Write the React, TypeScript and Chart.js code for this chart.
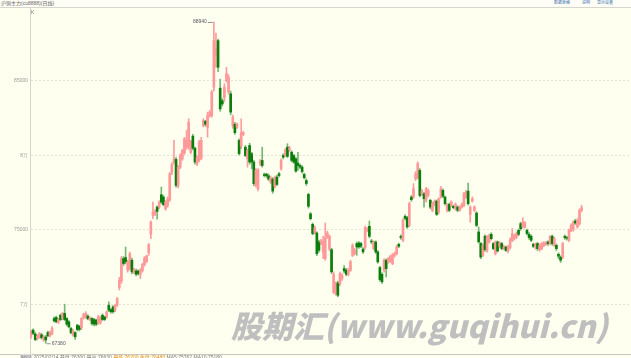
import React, { useEffect, useRef } from "react";
import { Chart, registerables } from "chart.js";

Chart.register(...registerables);

// ---- DATA ----
const openPrices = [
  67850, 68260, 68000, 67750, 67770, 67950, 67630, 67800, 68100, 67880, 68000, 69040, 69110, 68790, 69260, 69040, 69380, 69040, 68820, 68370,
  67920, 68100, 68590, 68520, 68410, 69110, 69150, 69200, 68970, 69040, 68970, 68930, 68750, 68750, 69260, 69150, 69150, 69930, 69640, 69820,
  69600, 69930, 71120, 71560, 73060, 73130, 72280, 72500, 72950, 72170, 72230, 72230, 72000, 72250, 72660, 72880, 73460, 74700, 75960, 76050,
  76520, 76520, 77350, 77190, 76410, 76640, 77000, 78860, 79540, 79720, 77970, 79200, 79750, 80160, 80540, 80540, 80200, 81280, 80470, 79420,
  79650, 79800, 82000, 82280, 81880, 82660, 82660, 84560, 86680, 87690, 84500, 83660, 83890, 84990, 84230, 84120, 81990, 82070, 81880, 80990,
  80620, 81400, 80540, 79760, 80650, 80100, 79540, 77970, 77750, 79470, 79650, 78710, 78730, 78620,
  78200, 78400, 77900, 78530, 78750, 79090, 79980, 79980, 80540, 80390, 80200, 79980, 79760, 79470, 79310, 79200,
  78710, 78300, 77370, 76070, 75360, 74780, 74780, 74180, 74110, 73500, 73060, 74510, 73730, 73660, 70800, 70710, 71430, 71380, 71720, 72390, 72280, 72010,
  72280, 73280, 73390, 74070, 74110, 74070, 73700, 73800, 74960, 75230, 74240, 73730, 74180, 73510, 72460, 72010, 72280, 72950, 72840, 72900, 72730, 73280,
  73390, 74020, 74560, 74290, 75900, 75810, 75290, 77190, 77190, 78420, 78530, 78980, 77410, 77410, 76970, 77300, 76970, 76300, 76750,
  76920, 76180, 77190, 77640, 77190, 76300, 76700, 76630, 76570, 76410, 76520, 76300,
  76520, 76630, 77190, 77590, 76030, 76920, 76300, 76120, 74850, 74070, 73280, 74560, 73620, 74180, 74690, 74070, 73390, 74180, 73890, 74070, 73730, 73840,
  73570, 73800, 74290, 74400, 74510, 74960, 75410, 75180, 75180, 74960, 74690, 74560, 74020, 73890,
  74070, 73660, 73730, 73950, 74020, 74180, 74070,
  74560, 73950, 73950, 73350, 73170, 73170, 74560, 74470, 74290, 74960, 75000, 75580, 75180, 75400, 76300,
];
const highPrices = [
  68250, 68350, 68100, 67950, 68100, 68050, 67900, 67900, 68200, 68200, 68500, 69150, 69200, 69050, 69350, 69450, 70000, 69100, 68900, 68450,
  68300, 68150, 68650, 68600, 69100, 69400, 69500, 69300, 69150, 69100, 69050, 69000, 69250, 69200, 69350, 69200, 69550, 70160, 69700, 69900,
  70000, 70450, 71800, 73200, 73200, 73840, 72950, 73500, 73100, 72400, 72350, 72300, 72390, 72750, 73200, 73300, 74070, 75600, 76850, 76350,
  76600, 76950, 77860, 77300, 76950, 77200, 78850, 79500, 80990, 79850, 79300, 80100, 80400, 81200, 81660, 82440, 81000, 81400, 80550, 79950,
  81000, 81200, 82450, 82350, 82890, 83000, 84350, 88940, 88200, 87800, 85100, 83800, 84800, 85900, 85400, 84300, 82700, 82200, 82150, 81100,
  82440, 81600, 80650, 80400, 80800, 80200, 79650, 79100, 79100, 79700, 80540, 78800, 78800, 78750,
  78600, 78500, 78600, 78650, 78850, 79750, 80100, 80450, 80770, 80600, 80300, 80050, 79850, 80200, 79400, 79300,
  78800, 78420, 77450, 76150, 75450, 75250, 74850, 74300, 74350, 74550, 75450, 74900, 74650, 73750, 72170, 71500, 71550, 72150, 72050, 72600, 72400, 72400,
  72950, 74050, 73750, 74180, 74200, 74150, 73800, 75250, 75150, 75580, 74350, 74250, 74250, 73600, 72550, 72100, 73050, 73050, 73150, 73300, 73400, 73500,
  73950, 74100, 74650, 75750, 76000, 75900, 76850, 77300, 78090, 78900, 79550, 79100, 77700, 77500, 77850, 77750, 77050, 76850, 77000,
  77000, 77150, 77900, 77750, 77250, 76750, 76800, 76950, 76650, 76800, 76600, 76600,
  76800, 77500, 77650, 78130, 76600, 77200, 76600, 76200, 75180, 74150, 74050, 74650, 74600, 74700, 74800, 74150, 74250, 74250, 74200, 74150, 73950, 73900,
  73950, 74450, 75070, 74700, 74850, 75050, 75500, 75810, 75550, 75050, 74800, 74650, 74100, 74100,
  74150, 74050, 74150, 74200, 74200, 74250, 74600,
  74650, 74500, 74050, 73450, 73250, 74150, 74650, 74550, 75050, 75400, 75600, 75700, 75750, 76400, 76630,
];
const lowPrices = [
  67700, 67950, 67550, 67600, 67700, 67650, 67500, 67380, 67800, 67800, 67950, 68800, 68750, 68700, 68900, 68950, 68900, 68550, 68400, 68000,
  67850, 67630, 68200, 68200, 68300, 69000, 69050, 68950, 68900, 68600, 68550, 68550, 68650, 68650, 68900, 68900, 69050, 69500, 69400, 69400,
  69500, 69850, 70950, 71400, 72600, 72700, 72150, 72300, 72050, 72050, 71900, 71950, 71720, 72150, 72550, 72800, 73280, 74400, 75740, 75950,
  75700, 76400, 76750, 76600, 76300, 76500, 76900, 78700, 79400, 77860, 77800, 79100, 79650, 80050, 80400, 80400, 80100, 80350, 79400, 79300,
  79550, 79700, 81900, 81950, 81210, 82550, 82550, 84300, 85900, 85600, 82950, 83300, 83600, 84900, 84100, 82700, 81800, 81400, 81800, 80000,
  80430, 81300, 79900, 79200, 79400, 79090, 77950, 77850, 77600, 79300, 79200, 78550, 78500, 78300,
  78100, 77450, 77800, 77950, 78550, 79000, 79750, 79900, 79850, 80250, 79550, 79450, 78850, 78980, 79100, 78800,
  78400, 77970, 76450, 75650, 74650, 74700, 73250, 73500, 74000, 73050, 72950, 74400, 73600, 72050, 70700, 70600, 70500, 71250, 71600, 72100, 71900, 71900,
  72200, 73200, 73300, 73280, 73750, 73800, 73400, 73700, 74850, 74450, 74050, 73650, 73400, 72750, 71550, 71400, 72150, 71830, 72750, 72800, 72650, 73150,
  73300, 73800, 74350, 74200, 75650, 75100, 75200, 76900, 77100, 78300, 78400, 77200, 77300, 76520, 76850, 77200, 76400, 76200, 76600,
  75950, 76050, 77100, 77150, 76650, 76200, 76200, 76550, 76400, 76300, 76200, 76250,
  76450, 76550, 77100, 76650, 75510, 76850, 76200, 75200, 74100, 73050, 73200, 73550, 73500, 74100, 74300, 73650, 73300, 73500, 73800, 73650, 73650, 73550,
  73450, 73700, 74200, 74300, 74400, 74600, 74950, 75100, 75100, 74650, 74350, 74200, 73800, 73700,
  73600, 73550, 73650, 73850, 73950, 73950, 74000,
  73950, 73850, 73600, 73050, 72800, 73050, 74350, 74300, 74200, 74850, 74900, 75350, 75100, 75300, 76200,
];
const closePrices = [
  68150, 68040, 67630, 67850, 68040, 67750, 67800, 67600, 67880, 68100, 68370, 68880, 68820, 68970, 68970, 69380, 68970, 68660, 68480, 68080,
  68210, 67810, 68300, 68300, 69040, 69310, 69380, 69020, 69090, 68700, 68660, 68660, 69150, 69110, 68970, 68970, 69490, 69600, 69490, 69490,
  69930, 70380, 71610, 73060, 72730, 72840, 72840, 73390, 72170, 72300, 72010, 72050, 72280, 72660, 73100, 73240, 74000, 75510, 76190, 76230,
  76230, 76850, 76850, 76680, 76850, 77080, 78750, 79360, 79760, 77970, 79200, 79980, 80320, 81100, 80990, 82220, 80920, 80470, 79540, 79870,
  80880, 81000, 82330, 82080, 82660, 82890, 84230, 87690, 87130, 85900, 83110, 83440, 84560, 85480, 85230, 82890, 82550, 81510, 82070, 80100,
  81510, 81510, 79980, 80320, 79540, 79540, 78090, 78980, 79020, 79580, 79310, 78640, 78620, 78400,
  78490, 77590, 78490, 78040, 78640, 79650, 79870, 80360, 79920, 80470, 79650, 79540, 78930, 79310, 79200, 78900,
  78490, 78100, 76570, 75740, 74740, 75140, 73390, 73620, 74240, 74240, 74470, 74780, 74560, 72170, 72000, 71380, 70600, 72050, 71940, 72230, 72010, 72280,
  72840, 73950, 73620, 73840, 73840, 73890, 73510, 75140, 75050, 74560, 74180, 74180, 73510, 72840, 71650, 71500, 72950, 72390, 73060, 73220, 73280, 73400,
  73840, 73890, 74470, 75630, 75760, 75180, 76750, 77020, 77750, 78760, 79430, 77300, 77590, 77080, 77750, 77640, 76520, 76750, 76900,
  76030, 77080, 77750, 77240, 76750, 76630, 76300, 76850, 76480, 76700, 76300, 76520,
  76700, 77410, 77520, 76750, 76520, 77080, 76520, 75290, 74180, 73170, 73950, 73660, 74510, 74620, 74400, 73730, 74180, 73570, 74110, 73730, 73840, 73600,
  73840, 74330, 74740, 74620, 74740, 74690, 75070, 75510, 75450, 74740, 74470, 74290, 73890, 74050,
  73730, 73950, 74070, 74110, 74110, 74070, 74550,
  74070, 74400, 73730, 73220, 72950, 74070, 74470, 74420, 74960, 75290, 75510, 75450, 75630, 76300, 76480,
];
const slotCount = 286; // category slots across the plot (the last ones are empty)
const yTickValues = [70000, 75000, 80000, 85000];
const yTickLabels = ["7万", "75000", "8万", "85000"];
const yMin = 66658;
const yMax = 89879;

const UP_BODY = "#ff9898";
const UP_WICK = "#ff9c9c";
const DOWN_BODY = "#0b7d0b";
const DOWN_WICK = "#74b874";

const extremesPlugin = {
  id: "extremes",
  afterDatasetsDraw(chart: any) {
    const { ctx } = chart;
    const xs = chart.scales.x;
    const ys = chart.scales.y;
    let hi = 0;
    let lo = 0;
    highPrices.forEach((v, i) => { if (v > highPrices[hi]) hi = i; });
    lowPrices.forEach((v, i) => { if (v < lowPrices[lo]) lo = i; });
    ctx.save();
    ctx.font = "5px Arial";
    ctx.fillStyle = "#556";
    ctx.strokeStyle = "#778";
    ctx.lineWidth = 0.8;
    const hx = xs.getPixelForValue(hi);
    const hy = ys.getPixelForValue(highPrices[hi]);
    ctx.beginPath();
    ctx.moveTo(hx - 6, hy + 0.5);
    ctx.lineTo(hx - 1, hy + 0.5);
    ctx.stroke();
    ctx.textAlign = "right";
    ctx.textBaseline = "middle";
    ctx.fillText(String(highPrices[hi]), hx - 7, hy);
    const lx = xs.getPixelForValue(lo);
    const ly = ys.getPixelForValue(lowPrices[lo]);
    ctx.beginPath();
    ctx.moveTo(lx + 1, ly + 0.5);
    ctx.lineTo(lx + 5, ly + 0.5);
    ctx.stroke();
    ctx.textAlign = "left";
    ctx.fillText(String(lowPrices[lo]), lx + 6, ly);
    ctx.restore();
  },
};

export default function App() {
  const canvasRef = useRef<HTMLCanvasElement>(null);

  useEffect(() => {
    if (!canvasRef.current) return;
    const labels = Array.from({ length: slotCount }, (_, i) => String(i + 1));
    const isUp = closePrices.map((c, i) => c >= openPrices[i]);
    const chart = new Chart(canvasRef.current, {
      type: "bar",
      data: {
        labels,
        datasets: [
          {
            label: "body",
            data: openPrices.map((o, i) => [Math.min(o, closePrices[i]), Math.max(o, closePrices[i])]) as any,
            backgroundColor: isUp.map((u) => (u ? UP_BODY : DOWN_BODY)),
            borderWidth: 0,
            barThickness: 2,
            grouped: false,
          } as any,
          {
            label: "wick",
            data: lowPrices.map((l, i) => [l, highPrices[i]]) as any,
            backgroundColor: isUp.map((u) => (u ? UP_WICK : DOWN_WICK)),
            borderWidth: 0,
            barThickness: 1,
            grouped: false,
          } as any,
        ],
      },
      options: {
        animation: false,
        responsive: false,
        devicePixelRatio: 1,
        events: [],
        layout: { padding: 0 },
        plugins: { legend: { display: false }, tooltip: { enabled: false } },
        scales: {
          x: { display: false, offset: true },
          y: {
            min: yMin,
            max: yMax,
            position: "left",
            afterBuildTicks: (s: any) => {
              s.ticks = yTickValues.map((v) => ({ value: v }));
            },
            afterFit: (s: any) => {
              s.width = 30;
            },
            ticks: {
              autoSkip: false,
              padding: 2,
              color: "#9a9a9a",
              font: { size: 5, family: "Arial" },
              callback: (v: any) => {
                const k = yTickValues.indexOf(Number(v));
                return k >= 0 ? yTickLabels[k] : "";
              },
            },
            grid: { color: "#e3e3d6", lineWidth: 1, drawTicks: false },
            border: { display: true, color: "#d4d4cc", width: 1, dash: [2, 2] },
          } as any,
        },
      },
      plugins: [extremesPlugin],
    });
    return () => chart.destroy();
  }, []);

  const tiny = { position: "absolute" as const, whiteSpace: "nowrap" as const, lineHeight: 1 };

  return (
    <div
      style={{
        position: "fixed",
        left: 0,
        top: 0,
        width: 631,
        height: 358,
        overflow: "hidden",
        background: "#fffff0",
        fontFamily: 'Arial, "Noto Sans CJK SC", sans-serif',
      }}
    >
      <div style={{ position: "absolute", left: 0, top: 0, width: 631, height: 7, background: "#fefef6", borderBottom: "1px solid #d6d6ce" }} />
      <div style={{ ...tiny, left: 1, top: 1, fontSize: 5, color: "#666" }}>沪铜主力(cu8888)(日线)</div>
      <div style={{ ...tiny, left: 554, top: 1, fontSize: 4, color: "#3b6fb0" }}>数据表格</div>
      <div style={{ ...tiny, left: 582, top: 1, fontSize: 4, color: "#3b6fb0" }}>说明</div>
      <div style={{ ...tiny, left: 597, top: 1, fontSize: 4, color: "#3b6fb0" }}>显示设置</div>
      <div style={{ position: "absolute", left: 0, top: 3, width: 631, height: 356 }}>
        <canvas ref={canvasRef} width={631} height={356} style={{ display: "block" }} />
      </div>
      <div style={{ ...tiny, left: 31, top: 10, fontSize: 5, color: "#777" }}>K</div>
      <div style={{ position: "absolute", left: 0, top: 354, width: 631, height: 1, background: "#c8c8c0" }} />
      <div style={{ ...tiny, left: 20, top: 355, fontSize: 5, color: "#777" }}>
        <span style={{ background: "#ddd", padding: "0 1px" }}>时间</span> 2025/02/14 开盘:76300 最高:76630{" "}
        <span style={{ color: "#e08a1e" }}>最低:76200 收盘:76480</span> MA5:75762 MA10:75180
      </div>
      <div
        style={{
          ...tiny,
          left: 231,
          top: 309,
          fontSize: 31,
          fontWeight: 900,
          fontStyle: "italic",
          color: "#bfbfbf",
          fontFamily: '"Noto Sans CJK SC", sans-serif',
        }}
      >
        股期汇(www.guqihui.cn)
      </div>
    </div>
  );
}
